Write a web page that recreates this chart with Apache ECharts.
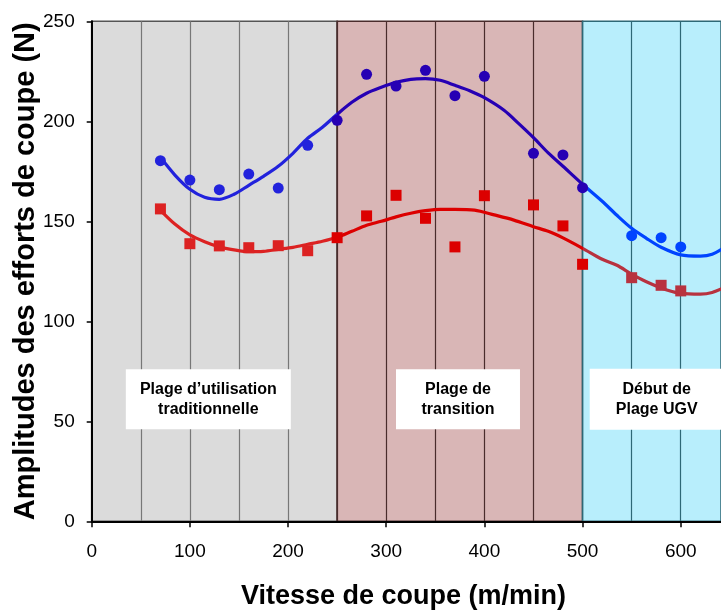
<!DOCTYPE html>
<html>
<head>
<meta charset="utf-8">
<script src="https://cdn.jsdelivr.net/npm/echarts@6/dist/echarts.min.js"></script>
<style>
html,body{margin:0;padding:0;background:#fff;}
#chart{width:721px;height:613px;}
</style>
</head>
<body>
<div id="chart"></div>
<script>
// ---- data ----
var xTickLabels = [0, 100, 200, 300, 400, 500, 600];
var yTickLabels = [0, 50, 100, 150, 200, 250];

var blueX = [70, 100, 130, 160, 190, 220, 250, 280, 310, 340, 370, 400, 450, 480, 500, 550, 580, 600];
var blueY = [180.3, 170.6, 165.8, 173.6, 166.6, 188, 200.5, 223.5, 217.6, 225.5, 212.8, 222.5, 184, 183.2, 166.8, 142.8, 141.8, 137.2];

var redX = [70, 100, 130, 160, 190, 220, 250, 280, 310, 340, 370, 400, 450, 480, 500, 550, 580, 600];
var redY = [156.2, 138.8, 137.7, 136.8, 137.8, 135.3, 141.8, 152.7, 163, 151.5, 137.2, 162.8, 158.2, 147.7, 128.5, 121.8, 118, 115.2];

var blueTrendX = [70, 85, 100, 115, 130, 145, 160, 175, 190, 205, 220, 235, 250, 265, 280, 295, 310, 325, 340, 355, 370, 385, 400, 420, 435, 450, 465, 480, 500, 520, 535, 550, 565, 580, 600, 620, 632, 645];
var blueTrendY = [182, 173, 166, 162, 161, 163.5, 168, 172.5, 177.5, 184, 191.5, 197, 203.5, 209.5, 214, 217, 219.5, 221, 221.3, 220.5, 218, 215.3, 211.8, 205.5, 198.8, 191.8, 184.2, 177.5, 168.5, 160, 153, 146.5, 141.5, 137, 133.2, 132.6, 133.5, 137];

var redTrendX = [70, 85, 100, 115, 130, 145, 160, 175, 190, 205, 220, 235, 250, 265, 280, 295, 310, 325, 340, 355, 370, 390, 410, 430, 450, 465, 480, 500, 520, 535, 550, 565, 585, 600, 620, 632, 645];
var redTrendY = [155.5, 148.5, 143.2, 139.8, 137.2, 135.7, 134.8, 135, 136, 137, 138.5, 140, 142, 145, 148, 150, 152.2, 154, 155.3, 156, 156, 155.6, 153.2, 150.6, 147.3, 145, 141.7, 136.5, 131, 128, 123.6, 119.8, 115.8, 114, 113.6, 114.4, 117];

var xMax = 641;
var zoneBounds = [0, 250, 500, 660];
var zoneColors = ['#dbdbdb', '#d9b6b6', '#b8eefc'];
var zoneBorders = ['#555555', '#4a2c2c', '#2e6876'];

var boxTexts = ['Plage d\u2019utilisation\ntraditionnelle', 'Plage de\ntransition', 'D\u00e9but de\nPlage UGV'];
var boxX = [118.8, 373.1, 575.5];
var boxY = [61, 61, 61];
var boxSizes = [[165, 60], [124, 60], [134, 61]];

var xTitle = 'Vitesse de coupe (m/min)';
var yTitle = 'Amplitudes des efforts de coupe (N)';

function pairs(xs, ys) { return xs.map(function (x, i) { return [x, ys[i]]; }); }

var FONT = '"Liberation Sans", Arial, sans-serif';

var gridLineColors = [];
for (var v = 0; v <= 650; v += 50) {
  gridLineColors.push(v < 250 ? '#777777' : (v < 500 ? '#4a2c2c' : '#2e6876'));
}

var chart = echarts.init(document.getElementById('chart'), null, {renderer: 'canvas'});

var option = {
  animation: false,
  backgroundColor: '#ffffff',
  title: {
    text: xTitle,
    left: 241,
    top: 583,
    padding: 0,
    textStyle: {fontFamily: FONT, fontWeight: 'bold', fontSize: 27, color: '#000'}
  },
  grid: {left: 91.7, top: 21.3, bottom: 91.7, right: 0, containLabel: false, outerBoundsMode: 'none'},
  xAxis: [{
    type: 'value', min: 0, max: xMax, interval: 100, position: 'bottom', z: 4,
    axisLine: {show: true, onZero: false, lineStyle: {color: '#000', width: 2}},
    axisTick: {show: true, length: 6, lineStyle: {color: '#000', width: 1.5}},
    axisLabel: {
      fontFamily: FONT, fontSize: 19, color: '#000', margin: 21, showMaxLabel: false,
      formatter: function (val) { return xTickLabels.indexOf(val) >= 0 ? String(val) : ''; }
    },
    splitLine: {show: false}
  }, {
    type: 'value', min: 0, max: xMax, interval: 50, position: 'bottom', z: 2,
    axisLine: {show: false}, axisTick: {show: false}, axisLabel: {show: false},
    splitLine: {show: true, showMaxLine: false, lineStyle: {color: gridLineColors, width: 1.2}}
  }],
  yAxis: {
    type: 'value', min: 0, max: 250, interval: 50, z: 4,
    name: yTitle, nameLocation: 'middle', nameRotate: 90, nameGap: 51, nameMoveOverlap: false,
    nameTextStyle: {fontFamily: FONT, fontWeight: 'bold', fontSize: 29, color: '#000'},
    axisLine: {show: true, lineStyle: {color: '#000', width: 2}},
    axisTick: {show: true, length: 5, lineStyle: {color: '#000', width: 1.5}},
    axisLabel: {
      fontFamily: FONT, fontSize: 19, color: '#000', margin: 17,
      formatter: function (val) { return yTickLabels.indexOf(val) >= 0 ? String(val) : ''; }
    },
    splitLine: {show: false}
  },
  visualMap: [{
    type: 'piecewise', show: false, dimension: 0, seriesIndex: [1, 3],
    pieces: [
      {lt: 250, color: '#2222dc'},
      {gte: 250, lte: 500, color: '#2600b4'},
      {gt: 500, color: '#0044ff'}
    ]
  }, {
    type: 'piecewise', show: false, dimension: 0, seriesIndex: [2, 4],
    pieces: [
      {lt: 250, color: '#dc2222'},
      {gte: 250, lte: 500, color: '#dc0000'},
      {gt: 500, color: '#b8323f'}
    ]
  }],
  series: [{
    type: 'scatter', data: [], z: 1, silent: true,
    markArea: {
      silent: true, z: 1,
      data: zoneColors.map(function (c, i) {
        return [{xAxis: zoneBounds[i], itemStyle: {color: c, borderColor: zoneBorders[i], borderWidth: 1.5}},
                {xAxis: zoneBounds[i + 1]}];
      })
    },
    markPoint: {
      silent: true, z: 10,
      data: boxTexts.map(function (t, i) {
        return {
          coord: [boxX[i], boxY[i]], symbol: 'rect', symbolSize: boxSizes[i],
          itemStyle: {color: '#ffffff'},
          label: {show: true, position: 'inside', formatter: t, color: '#000',
                  fontFamily: FONT, fontWeight: 'bold', fontSize: 16, lineHeight: 20, align: 'center'}
        };
      })
    }
  }, {
    name: 'blueTrend', type: 'line', z: 3, smooth: 0.3, showSymbol: false, symbol: 'none',
    data: pairs(blueTrendX, blueTrendY), lineStyle: {width: 3.2}
  }, {
    name: 'redTrend', type: 'line', z: 3, smooth: 0.3, showSymbol: false, symbol: 'none',
    data: pairs(redTrendX, redTrendY), lineStyle: {width: 3.2}
  }, {
    name: 'blue', type: 'scatter', z: 5, symbol: 'circle', symbolSize: 11,
    data: pairs(blueX, blueY), itemStyle: {opacity: 1}
  }, {
    name: 'red', type: 'scatter', z: 5, symbol: 'rect', symbolSize: 11,
    data: pairs(redX, redY), itemStyle: {opacity: 1}
  }]
};
chart.setOption(option);
</script>
</body>
</html>
